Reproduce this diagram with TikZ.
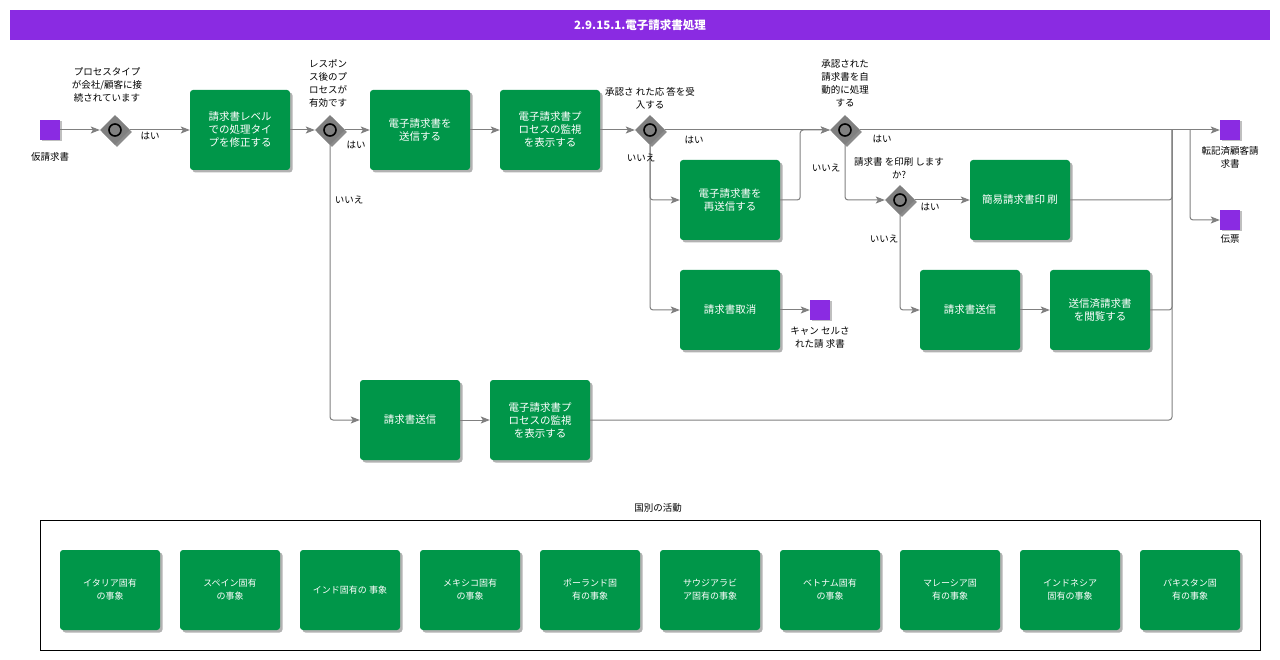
\documentclass[tikz,border=0pt]{standalone}
\usepackage{fontspec}
\setmainfont{Noto Sans CJK JP}
\usetikzlibrary{shapes.geometric,shadows,arrows.meta}
\definecolor{purp}{HTML}{8A2BE2}
\definecolor{tgreen}{HTML}{009649}
\definecolor{lgray}{HTML}{808080}
\begin{document}
\begin{tikzpicture}[x=1pt,y=-1pt,
 task/.style={rectangle, rounded corners=3pt, fill=tgreen, minimum width=100pt, minimum height=80pt, text=white, align=center, font=\fontsize{10.5}{13}\selectfont, inner sep=1pt, drop shadow={shadow xshift=2.5pt, shadow yshift=-2.5pt, fill=black, opacity=0.3}},
 smalltask/.style={task, font=\fontsize{9}{13}\selectfont},
 ev/.style={rectangle, fill=purp, minimum size=20pt, inner sep=0pt, drop shadow={shadow xshift=1.5pt, shadow yshift=-1.5pt, fill=black, opacity=0.25}},
 gw/.style={diamond, aspect=1, fill=lgray, minimum width=30pt, minimum height=30pt, inner sep=0pt, drop shadow={shadow xshift=2pt, shadow yshift=-2pt, fill=black, opacity=0.45}},
 gwc/.style={circle, draw=black, line width=1.6pt, fill=lgray, minimum size=12pt, inner sep=0pt},
 lbl/.style={font=\fontsize{9.5}{13}\selectfont, align=center, inner sep=0pt, text=black},
 flow/.style={draw=lgray, line width=1pt, -{Stealth[length=9pt,width=7pt,inset=2pt]}, rounded corners=3pt},
 line/.style={draw=lgray, line width=1pt, rounded corners=3pt},
]
\useasboundingbox (0,0) rectangle (1280,660);
\fill[white] (0,0) rectangle (1280,660);
% title
\node[fill=purp, minimum width=1260pt, minimum height=30pt, inner sep=0pt, text=white, font=\fontsize{11.5}{14}\selectfont\bfseries] (title) at (640,25) {2.9.15.1.電子請求書処理};

% events
\node[ev] (e1) at (50,130) {};
\node[ev] (e2) at (1230,130) {};
\node[ev] (e3) at (820,310) {};
\node[ev] (e4) at (1230,220) {};

% gateways
\foreach \n/\x/\y in {g1/115/130, g2/330/130, g3/650/130, g4/845/130, g5/900/200}{
  \node[gw] (\n) at (\x,\y) {};
  \node[gwc] (\n c) at (\x,\y) {};
}

% tasks
\node[task] (t1) at (240,130) {請求書レベル\\での処理タイ\\プを修正する};
\node[task] (t2) at (420,130) {電子請求書を\\送信する};
\node[task] (t3) at (550,130) {電子請求書プ\\ロセスの監視\\を表示する};
\node[task] (t4) at (730,200) {電子請求書を\\再送信する};
\node[task] (t5) at (730,310) {請求書取消};
\node[task] (t6) at (1020,200) {簡易請求書印 刷};
\node[task] (t7) at (970,310) {請求書送信};
\node[task] (t8) at (1100,310) {送信済請求書\\を閲覧する};
\node[task] (t9) at (410,420) {請求書送信};
\node[task] (t10) at (540,420) {電子請求書プ\\ロセスの監視\\を表示する};

\coordinate (mx) at (1172,130);
\coordinate (br) at (1190,130);

% flows
\draw[flow] (e1) -- (g1);
\draw[flow] (g1) -- (t1);
\draw[flow] (t1) -- (g2);
\draw[flow] (g2) -- (t2);
\draw[flow] (g2.south) |- (t9.west);
\draw[flow] (t2) -- (t3);
\draw[flow] (t3) -- (g3);
\draw[flow] (g3) -- (g4);
\draw[flow] (g3.south) |- (t4.west);
\draw[flow] (g3.south) |- (t5.west);
\draw[flow] (t4.east) -- ++(20,0) |- (g4.west);
\draw[flow] (t5) -- (e3);
\draw[flow] (g4) -- (e2);
\draw[flow] (g4.south) |- (g5.west);
\draw[flow] (g5) -- (t6);
\draw[flow] (g5.south) |- (t7.west);
\draw[flow] (t7) -- (t8);
\draw[flow] (t9) -- (t10);
\draw[line] (t6.east) -| (mx);
\draw[line] (t8.east) -| (mx);
\draw[line] (t10.east) -| (mx);
\draw[flow] (br) |- (e4.west);

% labels
\node[lbl] (l0) at (50,157) {仮請求書};
\node[lbl] (l1) at (107,85) {プロセスタイプ\\が会社/顧客に接\\続されています};
\node[lbl] (l2) at (150,136) {はい};
\node[lbl] (l3) at (328,83.5) {レスポン\\ス後のプ\\ロセスが\\有効です};
\node[lbl] (l4) at (356,145) {はい};
\node[lbl] (l5) at (349,200) {いいえ};
\node[lbl] (l6) at (650,98.5) {承認さ れた応 答を受\\入する};
\node[lbl] (l7) at (694,140) {はい};
\node[lbl] (l8) at (641,158) {いいえ};
\node[lbl] (l9) at (845,83.5) {承認された\\請求書を自\\動的に処理\\する};
\node[lbl] (l10) at (882,139) {はい};
\node[lbl] (l11) at (826,168) {いいえ};
\node[lbl] (l12) at (899,168.5) {請求書 を印刷 します\\か?};
\node[lbl] (l13) at (930,207) {はい};
\node[lbl] (l14) at (884,239) {いいえ};
\node[lbl] (l15) at (820,337.5) {キャン セルさ\\れた請 求書};
\node[lbl] (l16) at (1230,157.5) {転記済顧客請\\求書};
\node[lbl] (l17) at (1230,239) {伝票};

% bottom group
\node[lbl] (grp) at (658,508) {国別の活動};
\draw[black, line width=0.8pt] (40,520) rectangle (1260,650);
\foreach \i/\t in {0/{イタリア固有\\の事象}, 1/{スペイン固有\\の事象}, 2/{インド固有の 事象}, 3/{メキシコ固有\\の事象}, 4/{ポーランド固\\有の事象}, 5/{サウジアラビ\\ア固有の事象}, 6/{ベトナム固有\\の事象}, 7/{マレーシア固\\有の事象}, 8/{インドネシア\\固有の事象}, 9/{パキスタン固\\有の事象}}{
  \node[smalltask] (c\i) at (110+120*\i,590) {\t};
}
\end{tikzpicture}
\end{document}
